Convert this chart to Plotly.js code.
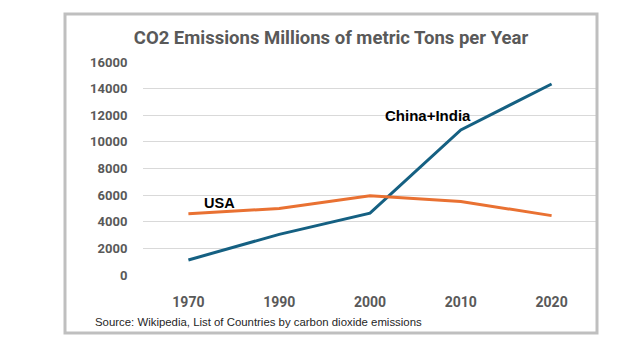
<!DOCTYPE html>
<html><head><meta charset="utf-8">
<script src="https://cdn.plot.ly/plotly-3.0.1.min.js"></script>
<style>html,body{margin:0;padding:0;background:#fff}#chart{width:640px;height:360px}</style>
</head><body><div id="chart"></div>
<script>
const years = ['1970', '1990', '2000', '2010', '2020'];
const chinaIndia = [1130, 3050, 4650, 10900, 14350];
const usa = [4600, 5000, 5950, 5520, 4460];
const yTicks = [0, 2000, 4000, 6000, 8000, 10000, 12000, 14000, 16000];

const L = 143, R = 597, T = 62, B = 275;
const W = 640, H = 360;
const px = x => (x - L) / (R - L);
const py = y => (B - y) / (B - T);

const traces = [
  {x: years, y: chinaIndia, type: 'scatter', mode: 'lines', name: 'China+India',
   line: {color: '#156082', width: 3}},
  {x: years, y: usa, type: 'scatter', mode: 'lines', name: 'USA',
   line: {color: '#E97132', width: 3}}
];

const layout = {
  width: W, height: H,
  margin: {l: L, r: W - R, t: T, b: H - B, pad: 0},
  paper_bgcolor: '#ffffff', plot_bgcolor: '#ffffff',
  showlegend: false,
  title: {text: 'CO2 Emissions Millions of metric Tons per Year',
    font: {family: 'Roboto, Arial, sans-serif', size: 18.5, color: '#595959', weight: 'bold'},
    x: 331 / W, xref: 'container', xanchor: 'center',
    y: 1 - 38 / H, yref: 'container', yanchor: 'middle'},
  xaxis: {type: 'category', showgrid: false, zeroline: false, showline: false,
    ticks: 'outside', ticklen: 14, tickcolor: 'rgba(0,0,0,0)',
    tickfont: {family: 'Roboto, Arial, sans-serif', size: 14, color: '#595959', weight: 'bold'},
    range: [-0.5, 4.5]},
  yaxis: {range: [0, 16000], tickvals: yTicks, ticktext: yTicks.map(String),
    showgrid: true, gridcolor: '#d9d9d9', gridwidth: 1, zeroline: false, showline: false,
    ticks: 'outside', ticklen: 12, tickcolor: 'rgba(0,0,0,0)',
    tickfont: {family: 'Roboto, Arial, sans-serif', size: 13, color: '#595959', weight: 'bold'}},
  annotations: [
    {text: 'China+India', xref: 'paper', yref: 'paper', x: px(428), y: py(115),
     showarrow: false, xanchor: 'center', yanchor: 'middle',
     font: {family: 'Arial, Liberation Sans, sans-serif', size: 15, color: '#000000', weight: 'bold'}},
    {text: 'USA', xref: 'paper', yref: 'paper', x: px(219), y: py(203),
     showarrow: false, xanchor: 'center', yanchor: 'middle',
     font: {family: 'Arial, Liberation Sans, sans-serif', size: 14.5, color: '#000000', weight: 'bold'}},
    {text: 'Source: Wikipedia, List of Countries by carbon dioxide emissions', xref: 'paper', yref: 'paper',
     x: px(93), y: py(322), showarrow: false, xanchor: 'left', yanchor: 'middle',
     font: {family: 'Arial, Liberation Sans, sans-serif', size: 11.4, color: '#262626'}}
  ],
  shapes: [
    {type: 'rect', xref: 'paper', yref: 'paper', x0: px(65), x1: px(597), y0: py(14), y1: py(333),
     line: {color: '#bfbfbf', width: 3}, fillcolor: 'rgba(0,0,0,0)', layer: 'above'}
  ]
};

Plotly.newPlot('chart', traces, layout, {displayModeBar: false, staticPlot: true});
</script></body></html>
